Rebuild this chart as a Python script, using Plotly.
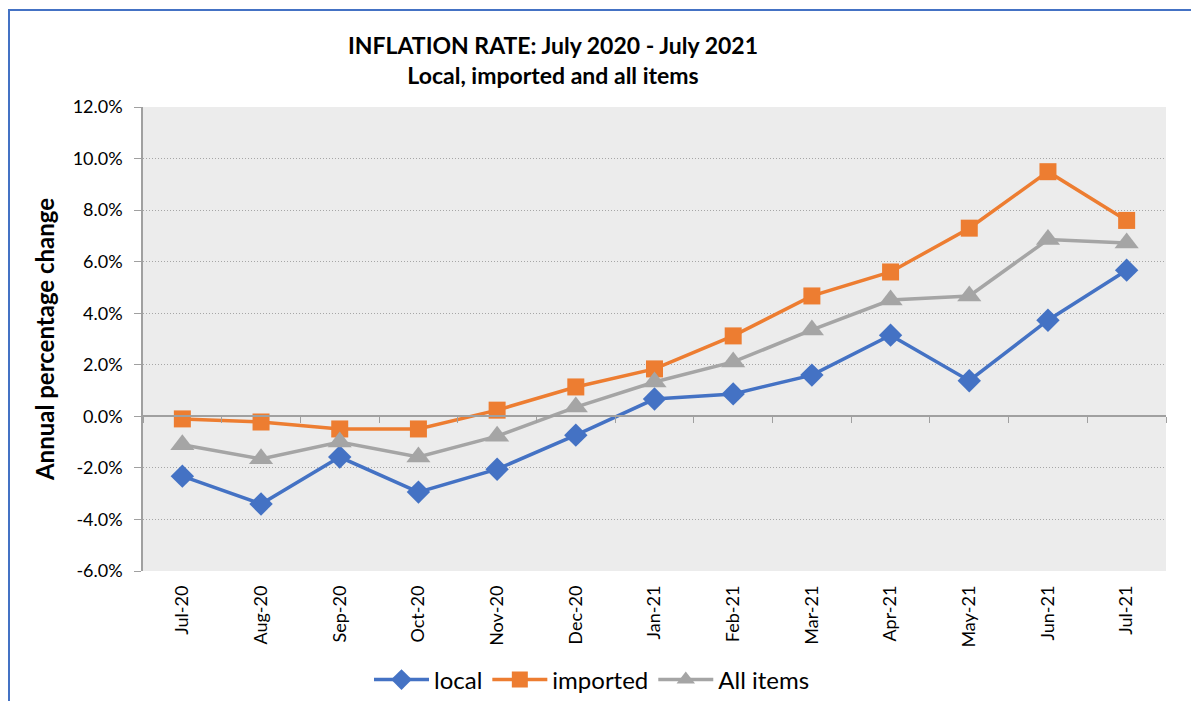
import plotly.graph_objects as go

months = ['Jul-20', 'Aug-20', 'Sep-20', 'Oct-20', 'Nov-20', 'Dec-20', 'Jan-21',
          'Feb-21', 'Mar-21', 'Apr-21', 'May-21', 'Jun-21', 'Jul-21']
local = [-2.32, -3.40, -1.58, -2.94, -2.05, -0.73, 0.67, 0.87, 1.60, 3.15, 1.38, 3.73, 5.67]
imported = [-0.10, -0.22, -0.49, -0.49, 0.24, 1.14, 1.84, 3.12, 4.67, 5.60, 7.30, 9.49, 7.60]
all_items = [-1.10, -1.65, -1.00, -1.58, -0.77, 0.36, 1.33, 2.11, 3.35, 4.51, 4.67, 6.86, 6.72]
y_ticks = [-6, -4, -2, 0, 2, 4, 6, 8, 10, 12]
y_ticktext = [f'{v:.1f}%' for v in y_ticks]

FONT = 'Lato'
AXC = '#A0A0A0'
series = [
    ('local', local, '#4472C4', 'diamond', 18),
    ('imported', imported, '#ED7D31', 'square', 17),
    ('All items', all_items, '#A5A5A5', 'triangle-up', 21),
]

# page body has an 8px margin, so the figure is sized to fit inside the window
W, H = 1191, 693
L, T, R, B = 135, 99, 33, 130
PW, PH = W - L - R, H - T - B

fig = go.Figure()
for name, vals, col, sym, sz in series:
    fig.add_trace(go.Scatter(
        x=months, y=vals, name=name, mode='lines+markers',
        line=dict(color=col, width=3.5),
        marker=dict(symbol=sym, size=sz, color=col)))

# invisible trace so the zero-line axis (with category boundary ticks) is drawn
fig.add_trace(go.Scatter(x=list(range(len(months))), y=all_items, xaxis='x2',
                         mode='markers', marker=dict(opacity=0), showlegend=False,
                         hoverinfo='skip'))

fig.update_layout(
    width=W, height=H,
    margin=dict(l=L, r=R, t=T, b=B, autoexpand=False),
    paper_bgcolor='white',
    plot_bgcolor='#ECECEC',
    font=dict(family=FONT, color='black', size=18),
    title=dict(
        text='<b>INFLATION RATE: July 2020 - July 2021<br>Local, imported and all items</b>',
        xref='container', yref='container',
        x=545 / W, xanchor='center', y=1 - 46 / H, yanchor='middle',
        font=dict(size=23, family=FONT)),
    legend=dict(orientation='h', xref='container', yref='container',
                x=584 / W, xanchor='center', y=1 - 672 / H, yanchor='middle',
                font=dict(size=24), itemwidth=55, bgcolor='rgba(0,0,0,0)'),
    showlegend=True,
    xaxis=dict(type='category', range=[-0.5, 12.5], showgrid=False, ticks='',
               tickangle=-90, showline=False, zeroline=False,
               ticklabelstandoff=10, tickfont=dict(size=18)),
    xaxis2=dict(overlaying='x', anchor='free', position=1/3, range=[-0.5, 12.5],
                tickvals=[i - 0.5 for i in range(14)], ticks='outside', ticklen=6,
                tickcolor=AXC, showticklabels=False, showline=True,
                linecolor=AXC, linewidth=1.5, showgrid=False, zeroline=False),
    yaxis=dict(range=[-6, 12], tickvals=y_ticks, ticktext=y_ticktext,
               showgrid=True, gridcolor='#A6A6A6', griddash='1px,2px', gridwidth=1,
               zeroline=False, showline=True, linecolor=AXC, linewidth=1.5,
               ticks='outside', ticklen=7, tickcolor=AXC,
               ticklabelstandoff=8, tickfont=dict(size=18),
               title=dict(text='<b>Annual percentage change</b>', font=dict(size=24), standoff=11)),
)

# outer blue chart border (Excel chart area)
fig.add_shape(type='rect', xref='paper', yref='paper',
              x0=(1 - L) / PW, x1=(W + 20 - L) / PW,
              y0=(T + PH - H - 20) / PH, y1=(T + PH - 2) / PH,
              line=dict(color='#4472C4', width=2), layer='below')

fig.write_html('out.html')
